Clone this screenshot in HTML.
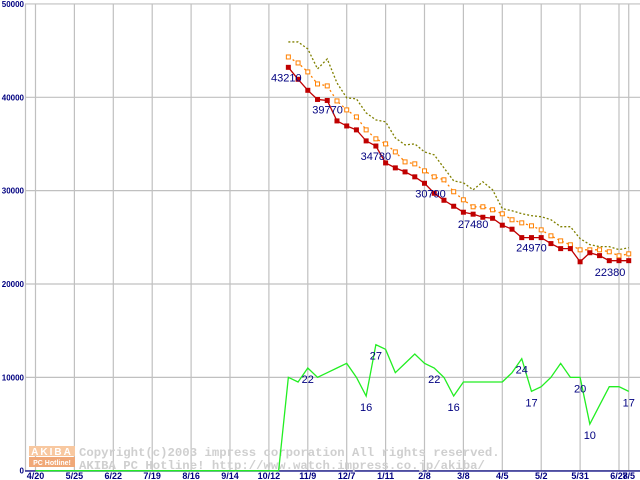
<!DOCTYPE html>
<html><head><meta charset="utf-8"><style>
body{margin:0;background:#fff;width:640px;height:480px;overflow:hidden}
svg{display:block}
</style></head><body>
<svg id="chart" width="640" height="480" viewBox="0 0 640 480" xmlns="http://www.w3.org/2000/svg" font-family="Liberation Sans, sans-serif"></svg>
<script>
const xTickLabels=["4/20","5/25","6/22","7/19","8/16","9/14","10/12","11/9","12/7","1/11","2/8","3/8","4/5","5/2","5/31","6/28","7/5"];
const yTicks=[0,10000,20000,30000,40000,50000];
const startWeek=26;
const minPrice=[43210,41930,40750,39770,39660,37470,36930,36510,35330,34780,32970,32440,32010,31480,30790,29720,28970,28330,27690,27480,27150,27040,26300,25870,24970,24970,24970,24330,23790,23790,22380,23350,23040,22500,22500,22500];
const avgPrice=[44320,43680,42720,41430,41220,39610,38650,37900,36510,35550,35010,34150,33080,32870,32120,31480,31160,29880,29020,28270,28270,27950,27520,26880,26550,26230,25800,25160,24620,24200,23660,23660,23660,23450,23020,23230];
const maxPrice=[45930,45930,45180,43040,44110,41540,39940,39830,38330,37580,37370,35650,34900,35010,34150,33830,32440,31050,30840,30090,30950,30090,28070,27850,27530,27320,27210,26890,26140,26140,24860,24220,24000,24000,23680,23890];
const shopCount=[20,19,22,20,21,22,23,20,16,27,26,21,23,25,23,22,20,16,19,19,19,19,19,21,24,17,18,20,23,20,20,10,14,18,18,17];
const priceLabelIdx=[26,29,35,40,45,51,56];
const priceLabelDx=[-2,10,0,6,0,0,30];
const countLabelIdx=[28,34,35,41,43,50,51,56,57,61];

const svg=document.getElementById('chart');
const NS='http://www.w3.org/2000/svg';
function xW(w){return 35.5+w*9.725;}
function yV(v){return 470.7-v*0.009335;}
function el(t,a,p){const e=document.createElementNS(NS,t);for(const k in a)e.setAttribute(k,a[k]);(p||svg).appendChild(e);return e;}

yTicks.forEach(v=>{
  const g=el('line',{x1:25,x2:640,y1:yV(v),y2:yV(v),stroke:'#c0c0c0','stroke-width':1.2});
  
  
  const t=el('text',{x:24,y:yV(v)+3,'text-anchor':'end','font-size':8,'font-weight':'bold',fill:'#000080'});
  t.textContent=String(v);
  
  
});
el('line',{x1:25.5,x2:25.5,y1:4,y2:471,stroke:'#c0c0c0','stroke-width':1.2});
xTickLabels.forEach((l,i)=>{
  const w=i<16?i*4:61;
  const x=xW(w);
  const g=el('line',{x1:x,x2:x,y1:4,y2:471,stroke:'#c0c0c0','stroke-width':1.2});
  
  
  const t=el('text',{x:x,y:479,'text-anchor':'middle','font-size':9,'font-weight':'bold',fill:'#000080'});
  t.textContent=l;
  
  
});
el('line',{x1:25,x2:640,y1:471,y2:471,stroke:'#000080','stroke-width':1.2});

const wm=el('g',{});


el('rect',{x:29,y:446,width:46,height:10,fill:'#f8c8a0'},wm);
el('rect',{x:29,y:457,width:46,height:10,fill:'#f0a878'},wm);
const l1=el('text',{x:52,y:455,'text-anchor':'middle','font-size':10,'font-weight':'bold',fill:'#fff','letter-spacing':2},wm);l1.textContent='AKIBA';
const l2=el('text',{x:52,y:465,'text-anchor':'middle','font-size':7,'font-weight':'bold',fill:'#fff'},wm);l2.textContent='PC Hotline!';
const w1=el('text',{x:79,y:456,'font-size':12.3,'font-weight':'bold',fill:'#cfcfcf',style:'font-family:"Liberation Mono",monospace'},wm);w1.textContent='Copyright(c)2003 impress corporation All rights reserved.';
const w2=el('text',{x:79,y:469,'font-size':12.3,'font-weight':'bold',fill:'#cfcfcf',style:'font-family:"Liberation Mono",monospace'},wm);w2.textContent='AKIBA PC Hotline!  http://www.watch.impress.co.jp/akiba/';

let cpts=[];
for(let w=0;w<startWeek;w++)cpts.push(xW(w)+','+yV(0));
shopCount.forEach((c,i)=>cpts.push(xW(startWeek+i)+','+yV(c*500)));
const gl=el('polyline',{points:cpts.join(' '),fill:'none',stroke:'#22ee22','stroke-width':1.3});



function series(arr,color,dash,name){
  const p=el('polyline',{points:arr.map((v,i)=>xW(startWeek+i)+','+yV(v)).join(' '),fill:'none',stroke:color,'stroke-width':1.3,'stroke-dasharray':dash||''});
  
  
}
series(maxPrice,'#808000','2,2','max-price-line');
series(avgPrice,'#ff8000','2,3','avg-price-line');
series(minPrice,'#c00000','','min-price-line');
avgPrice.forEach((v,i)=>{
  const m=el('rect',{x:xW(startWeek+i)-2,y:yV(v)-2,width:4,height:4,fill:'#fff',stroke:'#ff8000','stroke-width':1});
  
  
});
minPrice.forEach((v,i)=>{
  const m=el('rect',{x:xW(startWeek+i)-2.5,y:yV(v)-2.5,width:5,height:5,fill:'#c00000'});
  
  
});
priceLabelIdx.forEach((w,k)=>{
  const v=minPrice[w-startWeek];
  const t=el('text',{x:xW(w)+priceLabelDx[k],y:yV(v)+14,'text-anchor':'middle','font-size':11,fill:'#000080'});
  t.textContent=String(v);
  
  
});
countLabelIdx.forEach(w=>{
  const c=shopCount[w-startWeek];
  const t=el('text',{x:xW(w),y:yV(c*500)+15,'text-anchor':'middle','font-size':11,fill:'#000080'});
  t.textContent=String(c);
  
  
});
</script>
</body></html>
